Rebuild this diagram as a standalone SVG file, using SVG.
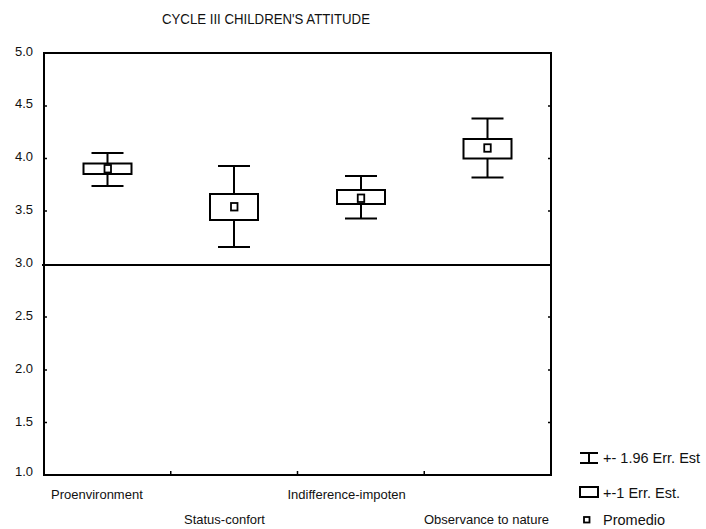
<svg xmlns="http://www.w3.org/2000/svg" width="706" height="529" viewBox="0 0 706 529">
  <style>
    text { font-family: "Liberation Sans", Arial, sans-serif; fill: #111; }
    .ylab { font-size: 13px; text-anchor: end; }
    .xlab { font-size: 13px; }
    .leg { font-size: 14.5px; }
    .frame { fill: none; stroke: #000; stroke-width: 2; }
    .tick { stroke: #000; stroke-width: 1.5; }
    .ref { stroke: #000; stroke-width: 2; }
    .wh { stroke: #000; stroke-width: 2; fill: none; }
    .box { fill: #fff; stroke: #000; stroke-width: 2; }
    .mean { fill: #fff; stroke: #000; stroke-width: 1.8; }
  </style>

  <rect width="706" height="529" fill="#fff"/>

  <!-- title -->
  <text x="162" y="24" font-size="14" textLength="208" lengthAdjust="spacingAndGlyphs">CYCLE III CHILDREN'S ATTITUDE</text>

  <!-- plot frame and axes -->
  <g id="axes">
    <rect class="frame" x="44" y="53" width="507" height="422"/>
    <!-- y ticks (left and right, inward) -->
    <g class="tick">
      <line x1="44" y1="106" x2="47" y2="106"/>
      <line x1="44" y1="158.5" x2="47" y2="158.5"/>
      <line x1="44" y1="211" x2="47" y2="211"/>
      <line x1="44" y1="317" x2="47" y2="317"/>
      <line x1="44" y1="370" x2="47" y2="370"/>
      <line x1="44" y1="422.5" x2="47" y2="422.5"/>
      <line x1="548" y1="106" x2="551" y2="106"/>
      <line x1="548" y1="158.5" x2="551" y2="158.5"/>
      <line x1="548" y1="211" x2="551" y2="211"/>
      <line x1="548" y1="317" x2="551" y2="317"/>
      <line x1="548" y1="370" x2="551" y2="370"/>
      <line x1="548" y1="422.5" x2="551" y2="422.5"/>
      <!-- x ticks -->
      <line x1="170.75" y1="475" x2="170.75" y2="471"/>
      <line x1="297.5" y1="475" x2="297.5" y2="471"/>
      <line x1="424.25" y1="475" x2="424.25" y2="471"/>
    </g>
    <!-- reference line at 3.0 -->
    <line class="ref" x1="42" y1="265" x2="551" y2="265"/>
  </g>

  <!-- y axis labels -->
  <g id="y-labels">
    <text class="ylab" x="33" y="56">5.0</text>
    <text class="ylab" x="33" y="108">4.5</text>
    <text class="ylab" x="33" y="161">4.0</text>
    <text class="ylab" x="33" y="214">3.5</text>
    <text class="ylab" x="33" y="267">3.0</text>
    <text class="ylab" x="33" y="320">2.5</text>
    <text class="ylab" x="33" y="373">2.0</text>
    <text class="ylab" x="33" y="426">1.5</text>
    <text class="ylab" x="33" y="476">1.0</text>
  </g>

  <!-- x axis labels -->
  <g id="x-labels">
    <text class="xlab" x="51" y="499">Proenvironment</text>
    <text class="xlab" x="184" y="523.5">Status-confort</text>
    <text class="xlab" x="287.5" y="499">Indifference-impoten</text>
    <text class="xlab" x="424" y="523.5">Observance to nature</text>
  </g>

  <!-- box plots: whisker = mean ± 1.96 SE, box = mean ± 1 SE, square = mean -->
  <g id="proenvironment">
    <path class="wh" d="M91.5 153H123.5M107.5 153V186M91.5 186H123.5"/>
    <rect class="box" x="83.5" y="163.5" width="48" height="10.5"/>
    <rect class="mean" x="104.5" y="165" width="6.5" height="7.5"/>
  </g>
  <g id="status-confort">
    <path class="wh" d="M218 166H250M234 166V247M218 247H250"/>
    <rect class="box" x="210" y="194" width="48" height="26"/>
    <rect class="mean" x="231" y="203" width="6.5" height="7.5"/>
  </g>
  <g id="indifference-impoten">
    <path class="wh" d="M345 176H377M361 176V218.5M345 218.5H377"/>
    <rect class="box" x="337" y="190" width="48" height="14"/>
    <rect class="mean" x="357.75" y="194.5" width="6.5" height="7.5"/>
  </g>
  <g id="observance-to-nature">
    <path class="wh" d="M471.5 118.5H503.5M487.5 118.5V177.5M471.5 177.5H503.5"/>
    <rect class="box" x="463.5" y="139" width="48" height="19.5"/>
    <rect class="mean" x="484.25" y="144.25" width="6.5" height="7.5"/>
  </g>

  <!-- legend -->
  <g id="legend">
    <path class="wh" d="M580 453H598M589 453V463M580 463H598"/>
    <text class="leg" x="603" y="462.5">+- 1.96 Err. Est</text>
    <rect class="box" x="580" y="487" width="18" height="10"/>
    <text class="leg" x="603" y="497.5">+-1 Err. Est.</text>
    <rect class="mean" x="584" y="517" width="5.5" height="5.5"/>
    <text class="leg" x="603" y="525">Promedio</text>
  </g>
</svg>
